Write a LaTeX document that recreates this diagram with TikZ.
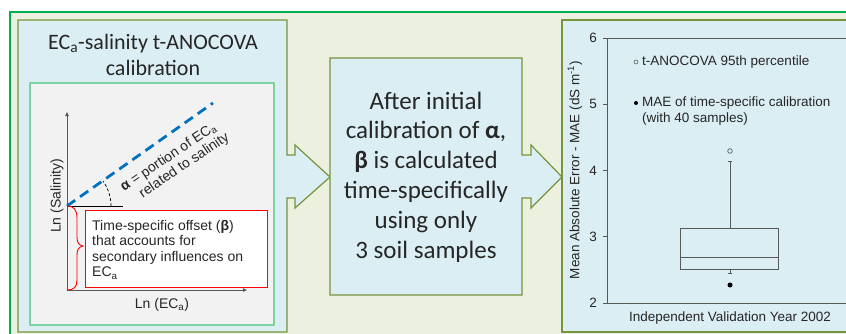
\documentclass[tikz,border=0pt]{standalone}
\usepackage{fontspec}
\setmainfont{Carlito}
\newfontfamily\plotfont{Liberation Sans}
\usetikzlibrary{arrows.meta}

\definecolor{framegreen}{HTML}{00B050}
\definecolor{olivebg}{HTML}{EBF1DE}
\definecolor{olivedge}{HTML}{77933C}
\definecolor{panelblue}{HTML}{DBEEF4}
\definecolor{mintedge}{HTML}{7FD3A2}
\definecolor{plotgray}{HTML}{F2F2F2}
\definecolor{dashblue}{HTML}{0070C0}
\definecolor{axisgray}{HTML}{595959}
\definecolor{inkgray}{HTML}{262626}
\definecolor{offsetred}{HTML}{FF0000}

\newcommand\ecsub{\textsubscript{a}}

\tikzset{
  panel/.style={fill=panelblue, draw=olivedge, line width=1.2pt, line join=miter},
  graphtxt/.style={font=\plotfont\fontsize{14}{15.5}\selectfont, text=inkgray, inner sep=0pt},
  plottxt/.style={font=\plotfont\fontsize{13.5}{16}\selectfont, text=inkgray, inner sep=0pt},
  axisline/.style={draw=axisgray, line width=0.9pt},
  plotline/.style={draw=axisgray, line width=1pt},
  titletxt/.style={font=\fontsize{22}{26.5}\selectfont, text=inkgray, inner sep=0pt, align=center},
  bigtxt/.style={font=\fontsize{25}{29.8}\selectfont, text=inkgray, inner sep=0pt, align=center},
}

\begin{document}
\begin{tikzpicture}[x=1pt,y=-1pt]
\useasboundingbox (0,0) rectangle (846,333);
\begin{scope}
\clip (0,0) rectangle (846,333);
\fill[white] (0,0) rectangle (846,333);

% outer frame
\draw[draw=framegreen, fill=olivebg, line width=1.2pt] (10,12) rectangle (870,350);

% left panel with its arrow
\draw[panel] (18,20) -- (287,20) -- (287,155) -- (295,155) -- (295,145)
  -- (330,177) -- (295,208) -- (295,198) -- (287,198) -- (287,332)
  -- (18,332) -- cycle;
\coordinate (leftTip) at (330,177);

% middle box with its arrow
\draw[panel] (330,58) -- (522,58) -- (522,155) -- (531,155) -- (531,145)
  -- (562,177) -- (531,208) -- (531,198) -- (522,198) -- (522,295)
  -- (330,295) -- cycle;
\coordinate (midTip) at (562,177);

% right panel
\draw[panel] (562,20) rectangle (880,332);

% ---------- left panel ----------
\node[titletxt] (title) at (153,55) {EC\ecsub-salinity t-ANOCOVA\\calibration};

\draw[draw=mintedge, fill=plotgray, line width=1.2pt] (30,83) rectangle (274,325);

\coordinate (origin) at (67,290);
\coordinate (ytop) at (67,112);
\coordinate (xend) at (247,290);
\coordinate (pivot) at (67,206);
\coordinate (refEnd) at (123,206);
\coordinate (slopeEnd) at (213,103);

\draw[axisline, -{Triangle[length=4pt,width=3.5pt]}] (origin) -- (ytop);
\draw[axisline, -{Triangle[length=4pt,width=3.5pt]}] (origin) -- (xend);
\draw[black, line width=0.9pt] (pivot) -- (refEnd);
\draw[dashblue, line width=2.8pt, dash pattern=on 10pt off 6pt] (pivot) -- (slopeEnd);
\draw[black, line width=0.7pt, dash pattern=on 3pt off 2pt]
  (111,206) .. controls (111,197) and (108.2,188.4) .. (103,181);

\node[graphtxt, rotate=34, align=right] (alphatxt) at (173,164)
  {\textbf{α} = portion of EC\ecsub\\related to salinity\hspace*{-5pt}};

% offset brace
\draw[offsetred, line width=0.9pt]
  (pivot) .. controls (74,206) and (77,210) .. (77,218) -- (77,237)
  .. controls (77,243) and (79,245) .. (83,246)
  .. controls (79,247) and (77,249) .. (77,255) -- (77,280)
  .. controls (77,287) and (74,290) .. (origin);

\node[draw=offsetred, fill=white, line width=1.2pt, minimum width=182pt, minimum height=77pt,
      anchor=north west, inner sep=0pt] (offsetbox) at (85,210) {};
\node[graphtxt, align=left, anchor=north west] (offsettxt) at (92,220)
  {Time-specific offset (\textbf{β})\\that accounts for\\secondary influences on\\EC\ecsub};

\node[graphtxt, rotate=90] (ylab) at (57,196) {Ln (Salinity)};
\node[graphtxt] (xlab) at (162,305) {Ln (EC\ecsub)};

% ---------- middle box ----------
\node[bigtxt] (midtxt) at (426,177)
  {After initial\\calibration of \textbf{α},\\\textbf{β} is calculated\\time-specifically\\using only\\3 soil samples};

% ---------- right panel: box plot ----------
\coordinate (pTL) at (607,38);
\coordinate (pBL) at (607,303);
\draw[plotline] (880,38) -- (pTL) -- (pBL) -- (880,303);
\foreach \v/\yy in {6/38,5/104.25,4/170.5,3/236.75,2/303} {
  \draw[plotline] (603,\yy) -- (607,\yy);
  \node[plottxt] (tick\v) at (593,\yy) {\v};
}
\node[plottxt, rotate=90] (plotylab) at (575,170) {Mean Absolute Error - MAE (dS m\textsuperscript{-1})};
\node[plottxt] (plotxlab) at (730,318) {Independent Validation Year 2002};

% legend
\draw[axisgray, line width=0.6pt] (636,62) circle (2pt);
\node[plottxt, anchor=west] (leg1) at (642,62) {t-ANOCOVA 95th percentile};
\fill[black] (636,103) circle (2pt);
\node[plottxt, anchor=north west, align=left] (leg2) at (642,97) {MAE of time-specific calibration\\(with 40 samples)};

% box and whiskers
\draw[plotline] (680,228) rectangle (778,269);
\draw[plotline] (680,257) -- (778,257);
\draw[plotline] (730,228) -- (730,161);
\draw[plotline] (728,161) -- (732,161);
\draw[plotline] (730,269) -- (730,273);
\draw[plotline] (728,273) -- (732,273);
\draw[axisgray, line width=0.7pt] (730,151) circle (2.3pt);
\fill[black] (730,285) circle (2.5pt);
\end{scope}
\end{tikzpicture}
\end{document}
